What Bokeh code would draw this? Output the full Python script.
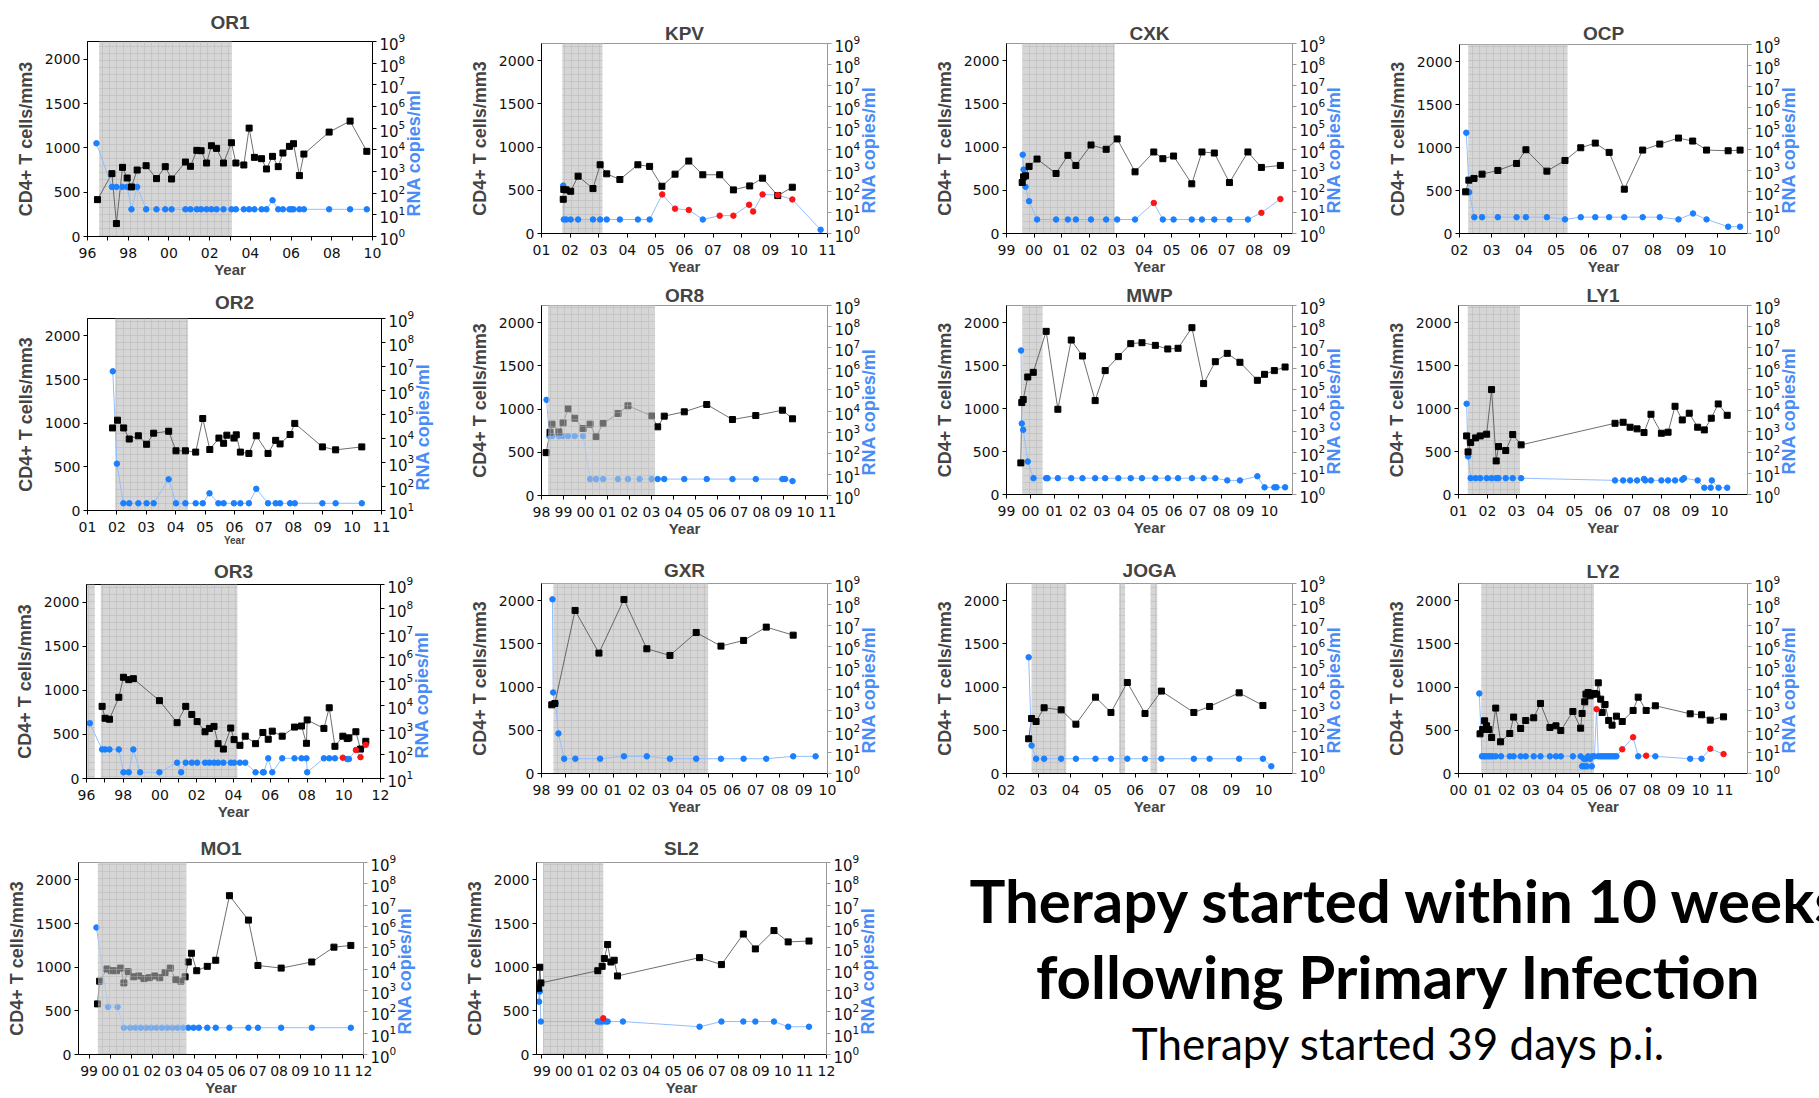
import math
from bokeh.plotting import figure
from bokeh.layouts import column, row
from bokeh.models import Range1d, LogScale, LogAxis, FixedTicker, LogTickFormatter, Label
from bokeh.embed import file_html
from bokeh.resources import INLINE

# ---------------------------------------------------------------- data
# CD4+ T cells/mm3 (black squares) and plasma RNA copies/ml (blue circles,
# red = detectable blips) per patient; time in decimal years.

OR1_cd4_t = [1996.49, 1997.20, 1997.42, 1997.72, 1997.95, 1998.16, 1998.44, 1998.88, 1999.39, 1999.82, 2000.13, 2000.81, 2001.06, 2001.37, 2001.58, 2001.85, 2002.09, 2002.34, 2002.68, 2003.07, 2003.29, 2003.68, 2003.94, 2004.20, 2004.55, 2004.79, 2005.09, 2005.37, 2005.60, 2005.92, 2006.12, 2006.41, 2006.63, 2007.87, 2008.90, 2009.72]
OR1_cd4 = [416, 709, 146, 780, 660, 559, 750, 799, 653, 788, 649, 840, 792, 972, 968, 829, 1024, 994, 829, 1058, 829, 807, 1223, 893, 878, 762, 904, 788, 942, 1017, 1047, 687, 930, 1178, 1302, 961]
OR1_rna_t = [1996.44, 1997.20, 1997.42, 1997.72, 1997.95, 1998.16, 1998.44, 1998.88, 1999.39, 1999.82, 2000.13, 2000.81, 2001.06, 2001.37, 2001.58, 2001.85, 2002.09, 2002.34, 2002.68, 2003.07, 2003.29, 2003.68, 2003.94, 2004.20, 2004.55, 2004.79, 2005.09, 2005.37, 2005.60, 2005.92, 2006.02, 2006.12, 2006.41, 2006.63, 2007.87, 2008.90, 2009.72]
OR1_rna = [20000, 195, 195, 195, 195, 18, 195, 18, 18, 18, 18, 18, 18, 18, 18, 18, 18, 18, 18, 18, 18, 18, 18, 18, 18, 18, 47, 18, 18, 18, 18, 18, 18, 18, 18, 18, 18]
OR1_red = []
OR1_therapy = [(1996.57, 2003.09)]

KPV_cd4_t = [2001.76, 2001.78, 2001.86, 2002.02, 2002.28, 2002.80, 2003.05, 2003.28, 2003.74, 2004.37, 2004.78, 2005.21, 2005.67, 2006.15, 2006.64, 2007.23, 2007.71, 2008.28, 2008.73, 2009.26, 2009.77]
KPV_cd4 = [396, 510, 505, 489, 664, 520, 796, 691, 625, 796, 777, 547, 687, 839, 680, 680, 505, 551, 641, 439, 536]
KPV_rna_t = [2001.76, 2001.78, 2001.86, 2002.02, 2002.28, 2002.80, 2003.05, 2003.28, 2003.74, 2004.37, 2004.78, 2005.22, 2005.67, 2006.15, 2006.64, 2007.23, 2007.71, 2008.26, 2008.40, 2008.73, 2009.26, 2009.77, 2010.76]
KPV_rna = [186, 4.6, 4.6, 4.6, 4.6, 4.6, 4.6, 4.6, 4.6, 4.6, 4.6, 71, 15, 13, 4.6, 7, 7, 23, 11, 71, 66, 41, 1.5]
KPV_red = [0, 0, 0, 0, 0, 0, 0, 0, 0, 0, 0, 1, 1, 1, 0, 1, 1, 1, 1, 1, 1, 1, 0]
KPV_therapy = [(2001.73, 2003.13)]

CXK_cd4_t = [1999.57, 1999.62, 1999.69, 1999.82, 2000.11, 2000.80, 2001.23, 2001.52, 2002.07, 2002.62, 2003.02, 2003.67, 2004.35, 2004.68, 2005.07, 2005.73, 2006.10, 2006.55, 2007.10, 2007.77, 2008.26, 2008.95]
CXK_cd4 = [590, 656, 668, 777, 862, 695, 905, 788, 1025, 975, 1095, 714, 944, 866, 897, 575, 944, 932, 590, 944, 765, 788]
CXK_rna_t = [1999.59, 1999.62, 1999.69, 1999.82, 2000.11, 2000.80, 2001.23, 2001.52, 2002.07, 2002.62, 2003.02, 2003.67, 2004.35, 2004.68, 2005.07, 2005.73, 2006.10, 2006.55, 2007.10, 2007.77, 2008.26, 2008.95]
CXK_rna = [5400, 1070, 162, 34, 4.6, 4.6, 4.6, 4.6, 4.6, 4.6, 4.6, 4.6, 28, 4.6, 4.6, 4.6, 4.6, 4.6, 4.6, 4.6, 9.5, 43]
CXK_red = [0, 0, 0, 0, 0, 0, 0, 0, 0, 0, 0, 0, 1, 0, 0, 0, 0, 0, 0, 0, 1, 1]
CXK_therapy = [(1999.58, 2002.93)]

OCP_cd4_t = [2002.19, 2002.29, 2002.45, 2002.70, 2003.19, 2003.77, 2004.06, 2004.71, 2005.27, 2005.76, 2006.21, 2006.64, 2007.11, 2007.68, 2008.21, 2008.79, 2009.23, 2009.66, 2010.33, 2010.70]
OCP_cd4 = [485, 621, 641, 691, 734, 815, 975, 726, 850, 998, 1052, 944, 516, 971, 1041, 1111, 1076, 971, 963, 971]
OCP_rna_t = [2002.21, 2002.30, 2002.46, 2002.70, 2003.19, 2003.77, 2004.06, 2004.71, 2005.27, 2005.76, 2006.21, 2006.64, 2007.11, 2007.68, 2008.21, 2008.79, 2009.24, 2009.66, 2010.33, 2010.70]
OCP_rna = [63000, 93, 6, 6, 6, 6, 6, 6, 4.7, 6, 6, 6, 6, 6, 6, 4.7, 9, 4.7, 2.1, 2.1]
OCP_red = []
OCP_therapy = [(2002.27, 2005.35)]

OR2_cd4_t = [2001.85, 2002.02, 2002.23, 2002.42, 2002.73, 2003.01, 2003.25, 2003.76, 2004.01, 2004.33, 2004.68, 2004.92, 2005.16, 2005.47, 2005.63, 2005.74, 2005.98, 2006.06, 2006.20, 2006.49, 2006.74, 2007.14, 2007.40, 2007.55, 2007.89, 2008.05, 2008.99, 2009.44, 2010.33]
OR2_cd4 = [946, 1035, 946, 819, 856, 759, 886, 908, 684, 684, 669, 1054, 699, 830, 770, 863, 830, 867, 669, 654, 856, 654, 804, 763, 871, 998, 729, 695, 729]
OR2_rna_t = [2001.86, 2002.00, 2002.22, 2002.42, 2002.73, 2003.01, 2003.25, 2003.76, 2004.01, 2004.33, 2004.68, 2004.92, 2005.15, 2005.45, 2005.63, 2005.98, 2006.20, 2006.49, 2006.74, 2007.14, 2007.40, 2007.55, 2007.89, 2008.05, 2008.99, 2009.44, 2010.33]
OR2_rna = [6300000, 890, 20, 20, 20, 20, 20, 200, 20, 20, 20, 20, 52, 20, 20, 20, 20, 20, 80, 20, 20, 20, 20, 20, 20, 20, 20]
OR2_red = []
OR2_therapy = [(2001.94, 2004.42)]

OR8_cd4_t = [1998.21, 1998.39, 1998.48, 1998.79, 1998.98, 1999.21, 1999.51, 1999.89, 2000.21, 2000.48, 2000.80, 2001.48, 2001.93, 2003.00, 2003.28, 2003.58, 2004.49, 2005.51, 2006.68, 2007.74, 2008.95, 2009.41]
OR8_cd4 = [496, 733, 826, 736, 841, 1004, 895, 775, 826, 682, 833, 950, 1039, 922, 795, 919, 969, 1054, 880, 926, 988, 888]
OR8_rna_t = [1998.23, 1998.36, 1998.48, 1998.79, 1998.98, 1999.21, 1999.51, 1999.89, 2000.21, 2000.48, 2000.80, 2001.48, 2001.93, 2002.46, 2003.00, 2003.28, 2003.58, 2004.49, 2005.51, 2006.68, 2007.74, 2008.95, 2009.07, 2009.41]
OR8_rna = [34000, 650, 650, 650, 650, 650, 650, 650, 6, 6, 6, 6, 6, 6, 6, 6, 6, 6, 6, 6, 6, 6, 6, 4.8]
OR8_red = []
OR8_therapy = [(1998.30, 2003.16)]

MWP_cd4_t = [1999.60, 1999.64, 1999.70, 1999.89, 2000.12, 2000.66, 2001.15, 2001.71, 2002.18, 2002.71, 2003.13, 2003.68, 2004.20, 2004.67, 2005.23, 2005.75, 2006.18, 2006.76, 2007.25, 2007.74, 2008.24, 2008.77, 2009.50, 2009.80, 2010.21, 2010.66]
MWP_cd4 = [368, 1070, 1105, 1368, 1422, 1899, 992, 1798, 1612, 1093, 1442, 1605, 1756, 1767, 1736, 1694, 1702, 1942, 1291, 1546, 1643, 1539, 1329, 1399, 1442, 1484]
MWP_rna_t = [1999.61, 1999.64, 1999.70, 1999.89, 2000.13, 2000.66, 2000.72, 2001.15, 2001.71, 2002.18, 2002.71, 2003.13, 2003.68, 2004.20, 2004.67, 2005.23, 2005.75, 2006.18, 2006.76, 2007.25, 2007.74, 2008.24, 2008.77, 2009.50, 2009.80, 2010.21, 2010.30, 2010.66]
MWP_rna = [7200000, 2400, 1200, 37, 6, 6, 6, 6, 6, 6, 6, 6, 6, 6, 6, 6, 6, 6, 6, 6, 6, 4.7, 4.7, 7.4, 2.2, 2.2, 2.2, 2.2]
MWP_red = []
MWP_therapy = [(1999.67, 2000.51)]

LY1_cd4_t = [2001.28, 2001.33, 2001.42, 2001.59, 2001.75, 2001.97, 2002.14, 2002.30, 2002.38, 2002.63, 2002.87, 2003.16, 2006.40, 2006.68, 2006.92, 2007.16, 2007.40, 2007.64, 2008.00, 2008.23, 2008.47, 2008.72, 2008.96, 2009.25, 2009.48, 2009.72, 2009.96, 2010.27]
LY1_cd4 = [682, 496, 605, 659, 682, 702, 1221, 391, 558, 512, 698, 578, 829, 841, 783, 764, 721, 934, 713, 725, 1027, 868, 946, 783, 752, 888, 1054, 922]
LY1_rna_t = [2001.28, 2001.33, 2001.42, 2001.59, 2001.75, 2001.97, 2002.14, 2002.30, 2002.38, 2002.63, 2002.87, 2003.16, 2006.40, 2006.68, 2006.92, 2007.16, 2007.40, 2007.44, 2007.64, 2008.00, 2008.23, 2008.47, 2008.72, 2008.78, 2009.25, 2009.48, 2009.70, 2009.74, 2009.97, 2010.27]
LY1_rna = [21000, 65, 6, 6, 6, 6, 6, 6, 6, 6, 6, 6, 4.7, 4.7, 4.7, 4.7, 5.5, 4.7, 4.7, 4.7, 4.7, 4.7, 5.1, 6, 4.7, 2.1, 2.1, 4.7, 2.1, 2.1]
LY1_red = []
LY1_therapy = [(2001.32, 2003.12)]

OR3_cd4_t = [1996.85, 1997.01, 1997.25, 1997.76, 1998.01, 1998.30, 1998.55, 1999.97, 2000.93, 2001.40, 2001.73, 2002.02, 2002.45, 2002.69, 2002.94, 2003.16, 2003.45, 2003.85, 2004.03, 2004.35, 2004.64, 2005.20, 2005.60, 2005.89, 2006.11, 2006.65, 2007.32, 2007.70, 2007.97, 2008.01, 2008.92, 2009.21, 2009.52, 2009.95, 2010.19, 2010.28, 2010.66, 2010.91, 2011.20]
OR3_cd4 = [818, 683, 672, 921, 1148, 1121, 1132, 883, 633, 818, 726, 645, 530, 568, 591, 395, 334, 572, 441, 376, 480, 395, 522, 445, 537, 480, 583, 595, 399, 664, 568, 802, 365, 480, 453, 461, 530, 334, 422]
OR3_rna_t = [1996.18, 1996.85, 1997.01, 1997.25, 1997.76, 1998.01, 1998.30, 1998.55, 1998.92, 1999.97, 2000.93, 2001.15, 2001.40, 2001.73, 2002.02, 2002.45, 2002.69, 2002.94, 2003.16, 2003.45, 2003.85, 2004.03, 2004.35, 2004.64, 2005.20, 2005.60, 2005.65, 2005.89, 2006.11, 2006.65, 2007.32, 2007.70, 2007.97, 2008.01, 2008.92, 2009.21, 2009.52, 2009.95, 2010.19, 2010.28, 2010.66, 2010.91, 2011.20]
OR3_rna = [1900, 158, 158, 158, 158, 18, 18, 158, 18, 18, 45, 18, 45, 45, 45, 45, 45, 45, 45, 45, 45, 45, 45, 45, 18, 18, 18, 68, 18, 68, 68, 68, 68, 18, 68, 68, 68, 72, 63, 63, 150, 76, 245]
OR3_red = [0, 0, 0, 0, 0, 0, 0, 0, 0, 0, 0, 0, 0, 0, 0, 0, 0, 0, 0, 0, 0, 0, 0, 0, 0, 0, 0, 0, 0, 0, 0, 0, 0, 0, 0, 0, 0, 1, 0, 0, 1, 1, 1]
OR3_therapy = [(1995.98, 1996.45), (1996.78, 2004.21)]

GXR_cd4_t = [1998.43, 1998.56, 1999.41, 2000.41, 2001.46, 2002.42, 2003.39, 2004.49, 2005.53, 2006.48, 2007.43, 2008.56]
GXR_cd4 = [795, 811, 1888, 1394, 2015, 1444, 1367, 1633, 1475, 1541, 1695, 1602]
GXR_rna_t = [1998.46, 1998.49, 1998.54, 1998.59, 1998.71, 1998.95, 1999.42, 2000.46, 2001.46, 2002.42, 2003.39, 2004.49, 2005.53, 2006.48, 2007.43, 2008.56, 2009.50]
GXR_rna = [178000000, 6900, 2100, 2100, 79, 5, 5, 5, 6.5, 6.5, 5, 5, 5, 5, 5, 6.5, 6.5]
GXR_red = []
GXR_therapy = [(1998.50, 2004.99)]

JOGA_cd4_t = [2002.69, 2002.78, 2002.92, 2003.17, 2003.70, 2004.16, 2004.77, 2005.25, 2005.76, 2006.31, 2006.82, 2007.83, 2008.32, 2009.24, 2009.98]
JOGA_cd4 = [402, 637, 602, 761, 737, 571, 884, 707, 1054, 695, 954, 707, 776, 934, 788]
JOGA_rna_t = [2002.69, 2002.78, 2002.92, 2003.17, 2003.70, 2004.16, 2004.77, 2005.25, 2005.76, 2006.31, 2006.82, 2007.83, 2008.32, 2009.24, 2009.98, 2010.24]
JOGA_rna = [320000, 21, 5, 5, 5, 5, 5, 5, 5, 5, 5, 5, 5, 5, 5, 2.2]
JOGA_red = []
JOGA_therapy = [(2002.78, 2003.86), (2005.50, 2005.69), (2006.48, 2006.69)]

LY2_cd4_t = [2000.89, 2001.00, 2001.08, 2001.16, 2001.25, 2001.37, 2001.54, 2001.74, 2002.12, 2002.28, 2002.57, 2002.78, 2003.11, 2003.39, 2003.78, 2004.03, 2004.23, 2004.73, 2005.05, 2005.11, 2005.22, 2005.27, 2005.36, 2005.44, 2005.53, 2005.62, 2005.71, 2005.78, 2005.88, 2005.94, 2006.06, 2006.21, 2006.35, 2006.53, 2006.77, 2007.22, 2007.43, 2007.76, 2008.14, 2009.58, 2010.05, 2010.41, 2010.96]
LY2_cd4 = [459, 510, 610, 552, 510, 417, 757, 367, 463, 653, 521, 614, 645, 811, 533, 552, 498, 718, 525, 695, 830, 919, 938, 900, 919, 927, 919, 1050, 861, 707, 799, 614, 560, 664, 602, 730, 884, 730, 784, 691, 680, 618, 656]
LY2_rna_t = [2000.86, 2000.97, 2001.05, 2001.13, 2001.22, 2001.30, 2001.40, 2001.54, 2001.76, 2002.12, 2002.28, 2002.57, 2002.78, 2003.11, 2003.39, 2003.78, 2004.03, 2004.23, 2004.73, 2005.05, 2005.11, 2005.19, 2005.20, 2005.27, 2005.30, 2005.36, 2005.44, 2005.51, 2005.53, 2005.62, 2005.71, 2005.78, 2005.87, 2005.95, 2006.03, 2006.12, 2006.20, 2006.28, 2006.37, 2006.45, 2006.53, 2006.77, 2007.22, 2007.43, 2007.76, 2008.14, 2009.58, 2010.05, 2010.41, 2010.96]
LY2_rna = [6200, 6.5, 6.5, 6.5, 6.5, 6.5, 6.5, 6.5, 6.5, 6.5, 6.5, 6.5, 6.5, 6.5, 6.5, 6.5, 6.5, 6.5, 6.5, 6.5, 2.2, 5, 2.2, 5, 2.2, 6.5, 5, 2.2, 6.5, 6.5, 1120, 6.5, 6.5, 6.5, 6.5, 6.5, 6.5, 6.5, 6.5, 6.5, 6.5, 14, 52, 6.5, 7, 6.5, 5, 5, 15, 8.3]
LY2_red = [0, 0, 0, 0, 0, 0, 0, 0, 0, 0, 0, 0, 0, 0, 0, 0, 0, 0, 0, 0, 0, 0, 0, 0, 0, 0, 0, 0, 0, 0, 1, 0, 0, 0, 0, 0, 0, 0, 0, 0, 0, 1, 1, 0, 1, 0, 0, 0, 1, 1]
LY2_therapy = [(2000.94, 2005.60)]

MO1_cd4_t = [1999.40, 1999.50, 1999.85, 2000.05, 2000.30, 2000.50, 2000.65, 2000.85, 2001.10, 2001.35, 2001.60, 2001.85, 2002.10, 2002.35, 2002.60, 2002.85, 2003.10, 2003.35, 2003.55, 2003.70, 2003.85, 2004.10, 2004.60, 2005.00, 2005.65, 2006.55, 2007.00, 2008.10, 2009.55, 2010.60, 2011.40]
MO1_cd4 = [580, 840, 980, 960, 960, 990, 820, 950, 890, 900, 870, 880, 900, 880, 940, 990, 860, 840, 890, 1060, 1160, 960, 1010, 1080, 1820, 1540, 1020, 990, 1060, 1230, 1250]
MO1_rna_t = [1999.35, 1999.90, 2000.35, 2000.65, 2000.95, 2001.20, 2001.45, 2001.70, 2001.95, 2002.20, 2002.45, 2002.70, 2002.95, 2003.20, 2003.45, 2003.70, 2003.95, 2004.20, 2004.60, 2005.00, 2005.65, 2006.55, 2007.00, 2008.10, 2009.55, 2011.40]
MO1_rna = [900000, 170, 170, 18, 18, 18, 18, 18, 18, 18, 18, 18, 18, 18, 18, 18, 18, 18, 18, 18, 18, 18, 18, 18, 18, 18]
MO1_red = []
MO1_therapy = [(1999.42, 2003.60)]

SL2_cd4_t = [1998.85, 1998.90, 1998.95, 2001.55, 2001.75, 2001.85, 2002.00, 2002.15, 2002.30, 2002.45, 2006.20, 2007.20, 2008.20, 2008.75, 2009.60, 2010.25, 2011.20]
SL2_cd4 = [760, 1000, 820, 960, 1010, 1100, 1260, 1060, 1080, 900, 1110, 1030, 1380, 1210, 1420, 1290, 1300]
SL2_rna_t = [1998.85, 1998.87, 1998.90, 1998.95, 2001.55, 2001.65, 2001.75, 2001.80, 2001.90, 2002.00, 2002.70, 2006.20, 2007.20, 2008.20, 2008.75, 2009.60, 2010.25, 2011.20]
SL2_rna = [2000, 300, 900, 35, 35, 35, 35, 50, 35, 35, 35, 20, 35, 35, 35, 35, 20, 20]
SL2_red = [0, 0, 0, 0, 0, 0, 0, 1, 0, 0, 0, 0, 0, 0, 0, 0, 0, 0]
SL2_therapy = [(1999.05, 2001.80)]

# ---------------------------------------------------------------- page layout
# cell rows/columns on the page, frame = (x0, y0, x1, y1) of each plotting
# area in page pixels, title_y = vertical centre of the panel title.
ROWS = [(0, 282), (282, 548), (548, 825), (825, 1098)]
COLS = [(0, 455), (455, 920), (920, 1370), (1370, 1819)]

PANELS = [
    dict(name="OR1", rc=(0, 0), frame=(87, 41, 372, 236), title_y=17, years=(1996, 2010), step=2, low=1, spine="black"),
    dict(name="KPV", rc=(0, 1), frame=(541, 43, 827, 233), title_y=32, years=(2001, 2011), step=1, low=1, spine="#999999"),
    dict(name="CXK", rc=(0, 2), frame=(1006, 43, 1292, 233), title_y=32, years=(1999, 2009.39), step=1, low=1, spine="#999999"),
    dict(name="OCP", rc=(0, 3), frame=(1459, 44, 1747, 233), title_y=32, years=(2002, 2010.93), step=1, low=1, spine="#999999"),
    dict(name="OR2", rc=(1, 0), frame=(87, 318, 381, 512), title_y=297, years=(2001, 2011), step=1, low=10, spine="black", small_year=True),
    dict(name="OR8", rc=(1, 1), frame=(541, 305, 827, 495), title_y=292, years=(1998, 2011), step=1, low=1, spine="#999999", shade_over=True),
    dict(name="MWP", rc=(1, 2), frame=(1006, 305, 1292, 494), title_y=292, years=(1999, 2010.97), step=1, low=1, spine="#999999"),
    dict(name="LY1", rc=(1, 3), frame=(1458, 305, 1747, 494), title_y=292, years=(2001, 2010.97), step=1, low=1, spine="#999999"),
    dict(name="OR3", rc=(2, 0), frame=(86, 584, 380, 778), title_y=570, years=(1996, 2012), step=2, low=10, spine="black"),
    dict(name="GXR", rc=(2, 1), frame=(541, 583, 827, 773), title_y=569, years=(1998, 2010), step=1, low=1, spine="#999999"),
    dict(name="JOGA", rc=(2, 2), frame=(1006, 583, 1292, 773), title_y=569, years=(2002, 2010.9), step=1, low=1, spine="#999999"),
    dict(name="LY2", rc=(2, 3), frame=(1458, 583, 1747, 773), title_y=570, years=(2000, 2011.95), step=1, low=1, spine="#999999"),
    dict(name="MO1", rc=(3, 0), frame=(78, 862, 363, 1056), title_y=847, years=(1998.5, 2012), step=1, low=1, spine="#999999", shade_over=True),
    dict(name="SL2", rc=(3, 1), frame=(536, 862, 826, 1056), title_y=847, years=(1998.75, 2012), step=1, low=1, spine="#999999"),
]

CD4_MAX = 2200
SHADE = "#d6d6d6"
BLUE = "#1a80ff"
BLUE_LINE = "#93bdff"
LABEL_BLUE = "#4a8cf7"
RED = "#ff1414"
TICK_FONT = "DejaVu Sans"
BOLD_FONT = "Liberation Sans"
NBSP = "\u00a0"
TITLE_BOX = 24  # height the 19px title occupies above the frame


def series(key):
    g = globals()
    red = g[key + "_red"] or [0] * len(g[key + "_rna"])
    return (g[key + "_cd4_t"], g[key + "_cd4"], g[key + "_rna_t"], g[key + "_rna"], red, g[key + "_therapy"])


def style_axis(ax, color="black"):
    ax.major_label_text_font = TICK_FONT
    ax.major_label_text_font_size = "14px"
    ax.major_label_text_color = "#111111"
    ax.axis_label_text_font = BOLD_FONT
    ax.axis_label_text_font_style = "bold"
    ax.axis_label_text_font_size = "18px"
    ax.axis_line_color = color
    ax.major_tick_line_color = color
    ax.major_tick_out = 4
    ax.major_tick_in = 0
    ax.minor_tick_line_color = None
    ax.major_label_standoff = 3


def rna_label(ax):
    """Blue right-hand label, reading bottom-to-top like the left one."""
    ax.axis_label_text_color = LABEL_BLUE
    ax.axis_label_standoff = 6
    if "axis_label_align" in ax.properties():
        for choice in ("start", "left"):
            try:
                ax.axis_label_align = choice
                break
            except Exception:
                continue
        ax.axis_label_orientation = math.pi / 2
        ax.axis_label = NBSP * 4 + "RNA copies/ml"
    else:
        ax.axis_label = "RNA copies/ml"


def make_panel(cfg):
    cd4_t, cd4, rna_t, rna, red, therapy = series(cfg["name"])
    r, c = cfg["rc"]
    cy0, cy1 = ROWS[r]
    cx0, cx1 = COLS[c]
    fx0, fy0, fx1, fy1 = cfg["frame"]
    x0, x1 = cfg["years"]
    top = fy0 - cy0
    p = figure(width=cx1 - cx0, height=cy1 - cy0, output_backend="svg", toolbar_location=None,
               x_range=Range1d(x0, x1), y_range=Range1d(0, CD4_MAX),
               min_border_left=fx0 - cx0, min_border_right=cx1 - fx1,
               min_border_top=top, min_border_bottom=cy1 - fy1,
               title=cfg["name"])
    p.grid.visible = False
    p.outline_line_color = cfg["spine"]
    p.title.align = "center"
    p.title.text_font = BOLD_FONT
    p.title.text_font_style = "bold"
    p.title.text_font_size = "19px"
    p.title.standoff = max(min(int(2 * (fy0 - cfg["title_y"] - 11)), top - TITLE_BOX), 0)

    p.extra_y_ranges = {"rna": Range1d(cfg["low"], 1e9)}
    p.extra_y_scales = {"rna": LogScale()}

    shade = dict(left=[a for a, b in therapy], right=[b for a, b in therapy],
                 bottom=0, top=CD4_MAX, line_color=None, fill_color=SHADE,
                 hatch_pattern="+", hatch_color="#bcbcbc", hatch_scale=7, hatch_weight=0.6)
    p.quad(**shade)

    # CD4 counts and viral load
    p.line(cd4_t, cd4, line_color="#4a4a4a", line_width=0.8)
    p.line(rna_t, rna, line_color=BLUE_LINE, line_width=1, y_range_name="rna")
    bx = [t for t, f in zip(rna_t, red) if not f]
    by = [v for v, f in zip(rna, red) if not f]
    p.scatter(bx, by, marker="circle", size=5.5, fill_color=BLUE, line_color=BLUE, y_range_name="rna")
    p.scatter(cd4_t, cd4, marker="square", size=6, fill_color="black", line_color="black")
    rx = [t for t, f in zip(rna_t, red) if f]
    ry = [v for v, f in zip(rna, red) if f]
    if rx:
        p.scatter(rx, ry, marker="circle", size=5.5, fill_color=RED, line_color=RED, y_range_name="rna")

    if cfg.get("shade_over"):
        # therapy band laid over the markers, which show through greyed
        over = dict(shade)
        over.update(fill_alpha=0.5, hatch_alpha=0.6)
        p.quad(**over)

    # x axis: one tick per year, two-digit labels
    years = list(range(math.ceil(x0), math.floor(x1) + 1))
    base = years[0]
    xa = p.xaxis[0]
    xa.ticker = FixedTicker(ticks=years)
    xa.major_label_overrides = {y: (f"{y % 100:02d}" if (y - base) % cfg["step"] == 0 else "") for y in years}
    style_axis(xa)
    xa.major_label_standoff = 7
    xa.axis_label = "Year"
    xa.axis_label_standoff = 0
    xa.axis_label_text_font_size = "10px" if cfg.get("small_year") else "15px"

    ya = p.yaxis[0]
    ya.ticker = FixedTicker(ticks=[0, 500, 1000, 1500, 2000])
    style_axis(ya)
    ya.axis_label = "CD4+ T cells/mm3"
    ya.axis_label_standoff = 6

    lo = int(round(math.log10(cfg["low"])))
    ra = LogAxis(y_range_name="rna", ticker=FixedTicker(ticks=[10.0 ** k for k in range(lo, 10)]),
                 formatter=LogTickFormatter())
    style_axis(ra, cfg["spine"])
    ra.major_label_text_font_size = "15px"
    rna_label(ra)
    p.add_layout(ra, "right")
    return p


figs = [make_panel(cfg) for cfg in PANELS]

# caption block: data units equal pixels inside a border-less 899x273 frame
txt = figure(width=899, height=273, output_backend="svg", toolbar_location=None,
             x_range=Range1d(0, 899), y_range=Range1d(0, 273), title=None,
             x_axis_type=None, y_axis_type=None, min_border=0)
txt.grid.visible = False
txt.outline_line_color = None
txt.add_layout(Label(x=49, y=199, text="Therapy started within 10 weeks", text_font="Lato",
                     text_font_style="bold", text_font_size="60px", text_baseline="middle",
                     text_color="black"))
txt.add_layout(Label(x=478, y=123, text="following Primary Infection", text_font="Lato",
                     text_font_style="bold", text_font_size="60px", text_baseline="middle",
                     text_align="center", text_color="black"))
txt.add_layout(Label(x=478, y=56, text="Therapy started 39 days p.i.", text_font="Lato",
                     text_font_size="44px", text_baseline="middle", text_align="center",
                     text_color="black"))

# each figure sits in its own box so rows keep the individual frame offsets
cells = [column(f) for f in figs]
layout = column(
    row(*cells[0:4]),
    row(*cells[4:8]),
    row(*cells[8:12]),
    row(cells[12], cells[13], column(txt)),
)

open("out.html", "w").write(file_html(layout, INLINE))
